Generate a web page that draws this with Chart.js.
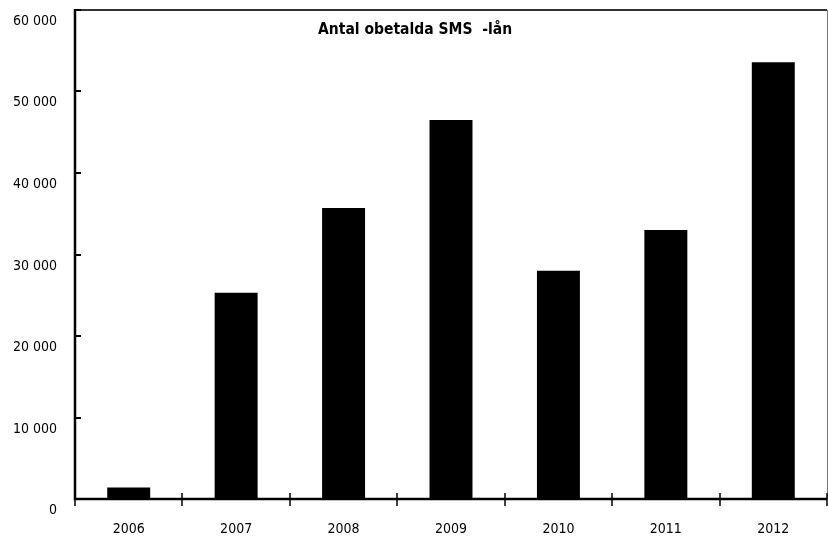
<!DOCTYPE html>
<html>
<head>
<meta charset="utf-8">
<script src="https://cdn.jsdelivr.net/npm/chart.js@4"></script>
<style>
  html, body { margin: 0; padding: 0; background: #fff; }
  #wrap { width: 828px; height: 545px; }
</style>
</head>
<body>
<div id="wrap"><canvas id="smsChart" width="828" height="545"></canvas></div>
<script>
const years = ["2006", "2007", "2008", "2009", "2010", "2011", "2012"];
const unpaidLoans = [1400, 25300, 35700, 46500, 28000, 33000, 53600];
const chartTitle = "Antal obetalda SMS  -lån";

const fontFamily = "'DejaVu Sans Condensed', 'Liberation Sans Narrow', sans-serif";

function fmt(v) {
    if (v === 0) return "0";
    const s = String(v);
    return s.slice(0, s.length - 3) + " " + s.slice(-3);
}

// axes frame, tick marks and y labels like the original spreadsheet chart
const frameTicks = {
    id: "frameTicks",
    afterDraw(chart) {
        const ctx = chart.ctx;
        const area = chart.chartArea;
        const x = chart.scales.x;
        const y = chart.scales.y;
        ctx.save();

        // box top/right
        ctx.strokeStyle = "#333";
        ctx.lineWidth = 2;
        ctx.beginPath();
        ctx.moveTo(area.left, area.top);
        ctx.lineTo(area.right, area.top);
        ctx.stroke();
        ctx.strokeStyle = "#777";
        ctx.lineWidth = 1;
        ctx.beginPath();
        ctx.moveTo(area.right + 0.5, area.top);
        ctx.lineTo(area.right + 0.5, area.bottom);
        ctx.stroke();

        // y ticks pointing inward, labels sitting a bit below each tick
        ctx.strokeStyle = "#000";
        ctx.fillStyle = "#000";
        ctx.font = "14px " + fontFamily;
        ctx.textAlign = "right";
        ctx.textBaseline = "middle";
        y.ticks.forEach(t => {
            const py = Math.round(y.getPixelForValue(t.value));
            ctx.lineWidth = 2;
            ctx.beginPath();
            ctx.moveTo(area.left, py);
            ctx.lineTo(area.left + 6, py);
            ctx.stroke();
            ctx.fillText(fmt(t.value), 57, py + 11);
        });

        // x ticks at category borders, crossing the axis
        ctx.lineWidth = 1.5;
        for (let i = 0; i <= years.length; i++) {
            const px = Math.round(x.left + (x.width / years.length) * i);
            ctx.beginPath();
            ctx.moveTo(px, i === 0 ? area.bottom : area.bottom - 6);
            ctx.lineTo(px, area.bottom + 7);
            ctx.stroke();
        }

        // axis lines
        ctx.lineWidth = 2.5;
        ctx.beginPath();
        ctx.moveTo(area.left, area.top - 1);
        ctx.lineTo(area.left, area.bottom);
        ctx.lineTo(area.right, area.bottom);
        ctx.stroke();

        // title inside plot
        ctx.font = "bold 15.5px " + fontFamily;
        ctx.textAlign = "left";
        ctx.fillText(chartTitle, area.left + 243, area.top + 20);
        ctx.restore();
    }
};

new Chart(document.getElementById("smsChart"), {
    type: "bar",
    data: {
        labels: years,
        datasets: [{
            data: unpaidLoans,
            backgroundColor: "#000",
            borderWidth: 0,
            barPercentage: 0.4,
            categoryPercentage: 1
        }]
    },
    options: {
        responsive: false,
        animation: false,
        layout: { padding: { top: 10, right: 1, left: 0, bottom: 0 } },
        plugins: { legend: { display: false }, tooltip: { enabled: false } },
        scales: {
            x: {
                grid: { display: false },
                border: { display: false },
                ticks: { color: "#000", padding: 14, font: { family: fontFamily, size: 14 } },
                afterFit(scale) { scale.height = 46; }
            },
            y: {
                min: 0,
                max: 60000,
                grid: { display: false },
                border: { display: false },
                ticks: { display: false, stepSize: 10000 },
                afterFit(scale) { scale.width = 75; }
            }
        }
    },
    plugins: [frameTicks]
});
</script>
</body>
</html>
